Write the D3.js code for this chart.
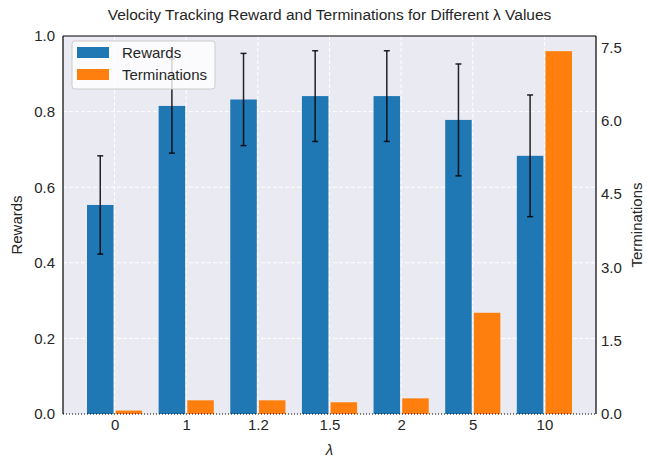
<!DOCTYPE html>
<html>
<head>
<meta charset="utf-8">
<script src="https://cdn.jsdelivr.net/npm/d3@7"></script>
<style>
  body { margin: 0; background: #fff; }
  text { font-family: "Liberation Sans", Arial, sans-serif; fill: #262626; }
</style>
</head>
<body>
<div id="chart"></div>
<script>
// lambda values on the x axis
var lambdas = ["0", "1", "1.2", "1.5", "2", "5", "10"];
// mean velocity tracking reward and its spread
var rewards = [0.553, 0.815, 0.832, 0.841, 0.841, 0.778, 0.683];
var rewardErr = [0.130, 0.125, 0.122, 0.120, 0.120, 0.148, 0.161];
// number of terminations
var terminations = [0.07, 0.28, 0.28, 0.24, 0.32, 2.07, 7.42];
// tick labels
var leftTicks = [0, 0.2, 0.4, 0.6, 0.8, 1.0];
var rightTicks = [0, 1.5, 3.0, 4.5, 6.0, 7.5];

var width = 647, height = 460;
var margin = {top: 36, right: 51, bottom: 46, left: 63};
var innerW = width - margin.left - margin.right;
var innerH = height - margin.top - margin.bottom;

var svg = d3.select("#chart").append("svg")
  .attr("width", width)
  .attr("height", height);

var g = svg.append("g")
  .attr("transform", "translate(" + margin.left + "," + margin.top + ")");

// x position as a linear scale over category index, like matplotlib
var x = d3.scaleLinear().domain([-0.72, lambdas.length - 1 + 0.72]).range([0, innerW]);
var yL = d3.scaleLinear().domain([0, 1]).range([innerH, 0]);
var yR = d3.scaleLinear().domain([0, 7.73]).range([innerH, 0]);

var barW = 0.37, offset = 0.2;

// background
g.append("rect")
  .attr("width", innerW)
  .attr("height", innerH)
  .attr("fill", "#eaeaf2");

// grid lines
g.selectAll(".hgrid")
  .data(leftTicks.slice(1, -1))
  .enter().append("line")
  .attr("x1", 0).attr("x2", innerW)
  .attr("y1", function(d) { return yL(d); })
  .attr("y2", function(d) { return yL(d); })
  .attr("stroke", "#fff")
  .attr("stroke-width", 1)
  .attr("stroke-dasharray", "4,2");

g.selectAll(".vgrid")
  .data(lambdas)
  .enter().append("line")
  .attr("x1", function(d, i) { return x(i); })
  .attr("x2", function(d, i) { return x(i); })
  .attr("y1", 0).attr("y2", innerH)
  .attr("stroke", "#fff")
  .attr("stroke-width", 1)
  .attr("stroke-dasharray", "4,2");

// reward bars
g.selectAll(".reward")
  .data(rewards)
  .enter().append("rect")
  .attr("x", function(d, i) { return x(i - offset - barW / 2); })
  .attr("width", x(barW) - x(0))
  .attr("y", function(d) { return yL(d); })
  .attr("height", function(d) { return innerH - yL(d); })
  .attr("fill", "#1f77b4");

// termination bars
g.selectAll(".term")
  .data(terminations)
  .enter().append("rect")
  .attr("x", function(d, i) { return x(i + offset - barW / 2); })
  .attr("width", x(barW) - x(0))
  .attr("y", function(d) { return yR(d); })
  .attr("height", function(d) { return innerH - yR(d); })
  .attr("fill", "#ff7f0e");

// error bars
var err = g.selectAll(".err")
  .data(rewards)
  .enter().append("g")
  .attr("stroke", "#000")
  .attr("stroke-opacity", 0.85)
  .attr("stroke-width", 1.5);

err.append("line")
  .attr("x1", function(d, i) { return x(i - offset); })
  .attr("x2", function(d, i) { return x(i - offset); })
  .attr("y1", function(d, i) { return yL(d - rewardErr[i]); })
  .attr("y2", function(d, i) { return yL(d + rewardErr[i]); });

[-1, 1].forEach(function(s) {
  err.append("line")
    .attr("x1", function(d, i) { return x(i - offset) - 3; })
    .attr("x2", function(d, i) { return x(i - offset) + 3; })
    .attr("y1", function(d, i) { return yL(d + s * rewardErr[i]); })
    .attr("y2", function(d, i) { return yL(d + s * rewardErr[i]); });
});

// frame
g.append("line").attr("x1", 0).attr("x2", 0).attr("y1", 0).attr("y2", innerH)
  .attr("stroke", "#000").attr("stroke-width", 1.2);
g.append("line").attr("x1", innerW).attr("x2", innerW).attr("y1", 0).attr("y2", innerH)
  .attr("stroke", "#000").attr("stroke-width", 1.2);
g.append("line").attr("x1", 0).attr("x2", innerW).attr("y1", 0).attr("y2", 0)
  .attr("stroke", "#000").attr("stroke-width", 1.2);
g.append("line").attr("x1", 0).attr("x2", innerW).attr("y1", innerH).attr("y2", innerH)
  .attr("stroke", "#000").attr("stroke-width", 1.2)
  .attr("stroke-dasharray", "1,2");

// axes
var xAxis = g.append("g")
  .attr("transform", "translate(0," + innerH + ")")
  .call(d3.axisBottom(x).tickValues(d3.range(lambdas.length))
    .tickFormat(function(i) { return lambdas[i]; }).tickSize(0).tickPadding(5));

var leftAxis = g.append("g")
  .call(d3.axisLeft(yL).tickValues(leftTicks).tickFormat(d3.format(".1f"))
    .tickSize(0).tickPadding(8));

var rightAxis = g.append("g")
  .attr("transform", "translate(" + innerW + ",0)")
  .call(d3.axisRight(yR).tickValues(rightTicks).tickFormat(d3.format(".1f"))
    .tickSize(0).tickPadding(5));

[xAxis, leftAxis, rightAxis].forEach(function(a) {
  a.select(".domain").remove();
  a.selectAll("text")
    .style("font-size", "15px")
    .style("font-family", "Liberation Sans, Arial, sans-serif")
    .attr("fill", "#262626");
});

// axis titles
svg.append("text")
  .attr("x", margin.left + innerW / 2)
  .attr("y", 20)
  .attr("text-anchor", "middle")
  .style("font-size", "15.5px")
  .text("Velocity Tracking Reward and Terminations for Different λ Values");

svg.append("text")
  .attr("transform", "translate(22," + (margin.top + innerH / 2) + ") rotate(-90)")
  .attr("text-anchor", "middle")
  .style("font-size", "15px")
  .text("Rewards");

svg.append("text")
  .attr("transform", "translate(642," + (margin.top + innerH / 2) + ") rotate(-90)")
  .attr("text-anchor", "middle")
  .style("font-size", "15px")
  .text("Terminations");

svg.append("text")
  .attr("x", margin.left + innerW / 2)
  .attr("y", 455)
  .attr("text-anchor", "middle")
  .style("font-size", "15px")
  .style("font-style", "italic")
  .text("λ");

// legend
var legendItems = [{name: "Rewards", color: "#1f77b4"}, {name: "Terminations", color: "#ff7f0e"}];
var legend = g.append("g").attr("transform", "translate(9,5)");
legend.append("rect")
  .attr("width", 143).attr("height", 48)
  .attr("rx", 3)
  .attr("fill", "#fff").attr("fill-opacity", 0.8)
  .attr("stroke", "#ccc");
var li = legend.selectAll(".item")
  .data(legendItems)
  .enter().append("g")
  .attr("transform", function(d, i) { return "translate(5," + (6 + i * 22) + ")"; });
li.append("rect")
  .attr("width", 32).attr("height", 11)
  .attr("fill", function(d) { return d.color; });
li.append("text")
  .attr("x", 45).attr("y", 11)
  .style("font-size", "15px")
  .text(function(d) { return d.name; });
</script>
</body>
</html>
